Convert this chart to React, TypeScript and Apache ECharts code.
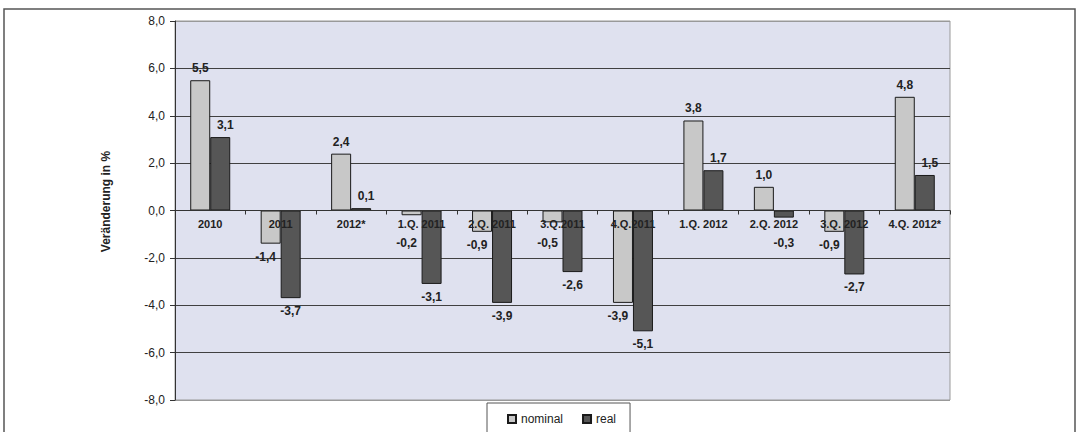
import React, { useEffect, useRef } from "react";
import * as echarts from "echarts";

const categories = ["2010", "2011", "2012*", "1.Q. 2011", "2.Q. 2011", "3.Q.2011", "4.Q.2011", "1.Q. 2012", "2.Q. 2012", "3.Q. 2012", "4.Q. 2012*"];
const nominal = [5.5, -1.4, 2.4, -0.2, -0.9, -0.5, -3.9, 3.8, 1.0, -0.9, 4.8];
const real = [3.1, -3.7, 0.1, -3.1, -3.9, -2.6, -5.1, 1.7, -0.3, -2.7, 1.5];
const yTicks = { min: -8, max: 8, interval: 2 };

const FONT = "'Liberation Sans', Arial, sans-serif";
const fmt = (v: number) => v.toFixed(1).replace(".", ",");

const GRID_TOP = 21;
const GRID_BOTTOM = 32;
const CHART_H = 432;
const PLOT_H = CHART_H - GRID_TOP - GRID_BOTTOM;
const PX_PER_UNIT = PLOT_H / (yTicks.max - yTicks.min);
// negative value labels are kept clear of the category labels on the zero line
const NEG_LABEL_MIN_GAP = 26;
const NEG_LABEL_DIST = 7;
const POS_LABEL_DIST = 6;

function makeData(values: number[], dxPos: number, dxNeg: number) {
  return values.map((v) => {
    if (v >= 0) {
      return {
        value: v,
        label: { position: "top", distance: POS_LABEL_DIST, offset: [dxPos, 0] },
      };
    }
    const barLen = Math.abs(v) * PX_PER_UNIT;
    return {
      value: v,
      label: {
        position: "bottom",
        distance: Math.max(NEG_LABEL_DIST, NEG_LABEL_MIN_GAP - barLen),
        offset: [dxNeg, 0],
      },
    };
  });
}

export default function App() {
  const ref = useRef<HTMLDivElement>(null);
  useEffect(() => {
    if (!ref.current) return;
    const chart = echarts.init(ref.current, undefined, { renderer: "svg" });
    const zeroOffset = (PLOT_H * (0 - yTicks.min)) / (yTicks.max - yTicks.min);
    const labelStyle = {
      show: true,
      fontFamily: FONT,
      fontSize: 12,
      fontWeight: "bold" as const,
      color: "#222",
      formatter: (p: any) => fmt(p.value),
    };
    chart.setOption({
      animation: false,
      textStyle: { fontFamily: FONT },
      graphic: [
        {
          type: "rect",
          shape: { x: 4, y: 9, width: 1071, height: 440 },
          style: { fill: "none", stroke: "#555", lineWidth: 1.5 },
          silent: true,
          z: -10,
        },
      ],
      grid: {
        left: 175,
        right: 129,
        top: GRID_TOP,
        bottom: GRID_BOTTOM,
        show: true,
        backgroundColor: "#dfe1ef",
        borderColor: "#999",
        borderWidth: 1,
      },
      legend: {
        data: ["nominal", "real"],
        left: 487,
        top: 403,
        padding: [10, 14, 20, 20],
        itemWidth: 8,
        itemHeight: 8,
        itemGap: 19,
        icon: "rect",
        borderColor: "#555",
        borderWidth: 1,
        backgroundColor: "#fff",
        textStyle: { fontFamily: FONT, fontSize: 12, color: "#222" },
      },
      xAxis: {
        type: "category",
        data: categories,
        z: 5,
        offset: -zeroOffset,
        axisLine: { onZero: false, lineStyle: { color: "#333", width: 1 } },
        axisTick: { show: true, inside: false, length: 4, lineStyle: { color: "#333" } },
        axisLabel: {
          fontFamily: FONT,
          fontSize: 11,
          fontWeight: "bold",
          color: "#222",
          margin: 8,
          interval: 0,
        },
        splitLine: { show: false },
      },
      yAxis: {
        type: "value",
        min: yTicks.min,
        max: yTicks.max,
        interval: yTicks.interval,
        name: "Veränderung in %",
        nameLocation: "middle",
        nameGap: 63,
        nameRotate: 90,
        nameTextStyle: {
          fontFamily: FONT,
          fontSize: 12,
          fontWeight: "bold",
          color: "#222",
          padding: [0, 0, 0, 18],
        },
        axisLine: { show: true, lineStyle: { color: "#333" } },
        axisTick: { show: true, length: 5, lineStyle: { color: "#333" } },
        axisLabel: {
          fontFamily: FONT,
          fontSize: 12,
          color: "#222",
          margin: 10,
          formatter: (v: number) => fmt(v),
        },
        splitLine: {
          show: true,
          lineStyle: {
            color: ["#999", "#404040", "#404040", "#404040", "#404040", "#404040", "#404040", "#404040", "#999"],
            width: 1,
          },
        },
      },
      series: [
        {
          name: "nominal",
          type: "bar",
          data: makeData(nominal, 0, -5),
          barWidth: 20,
          barGap: "0%",
          itemStyle: { color: "#c8c8c8", borderColor: "#1a1a1a", borderWidth: 1 },
          label: labelStyle,
        },
        {
          name: "real",
          type: "bar",
          data: makeData(real, 5, 0),
          barWidth: 20,
          barGap: "0%",
          itemStyle: { color: "#565656", borderColor: "#1a1a1a", borderWidth: 1 },
          label: labelStyle,
        },
      ],
    });
    return () => chart.dispose();
  }, []);
  return (
    <div
      ref={ref}
      style={{ position: "absolute", left: 0, top: 0, width: 1079, height: 432 }}
    />
  );
}
